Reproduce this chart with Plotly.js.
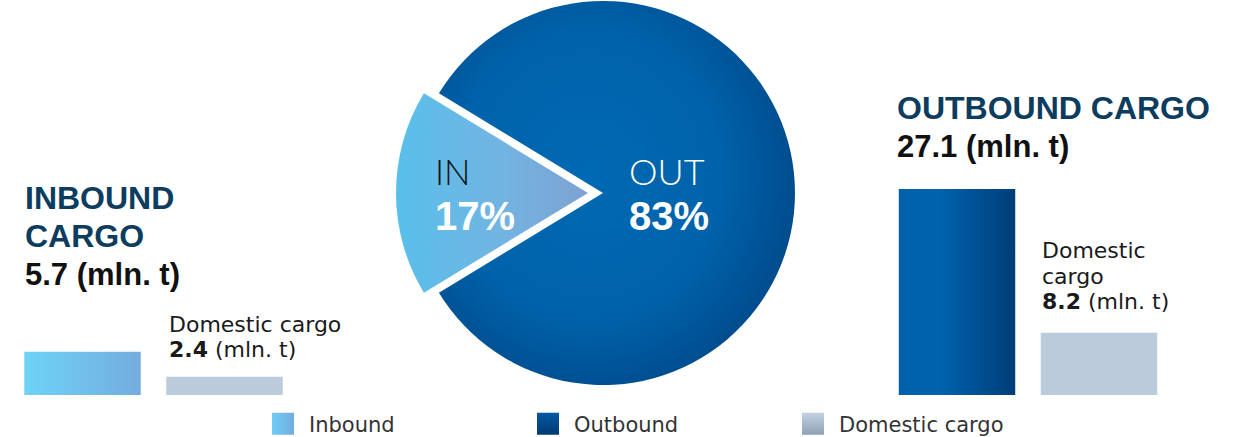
<!DOCTYPE html>
<html>
<head>
<meta charset="utf-8">
<script src="https://cdn.plot.ly/plotly-3.0.1.min.js"></script>
<style>
  html, body { margin: 0; padding: 0; background: #ffffff; }
  #chart { width: 1249px; height: 437px; }
</style>
</head>
<body>
<div id="chart"></div>
<script>
// ---- data ----
const categories = ['Inbound', 'Outbound'];
const pieLabels = ['IN', 'OUT'];
const totalCargo = [5.7, 27.1];      // mln. t
const domesticCargo = [2.4, 8.2];    // mln. t
const domesticLabel = 'Domestic cargo';
const unitLabel = '(mln. t)';

// ---- styling ----
const W = 1249, H = 437;
const px = v => v / W;
const py = v => 1 - v / H;

const colIn = '#6bb2e2';
const colOut = '#005ca4';
const colInBar = '#6ec3ee';
const colOutBar = '#00549a';
const colDom = '#bccbdc';
const TRANSP = 'rgba(0,0,0,0)';

const sum = totalCargo.reduce((a, b) => a + b, 0);
const shares = totalCargo.map(v => v / sum);
const rotation = 270 - shares[0] * 360 / 2;

const traces = [
  // main pie (OUT slice)
  {
    type: 'pie', labels: categories, values: totalCargo, sort: false,
    direction: 'clockwise', rotation: rotation,
    marker: { colors: [TRANSP, colOut], line: { width: 0 } },
    textinfo: 'none', showlegend: false, hoverinfo: 'label+value+percent',
    domain: { x: [px(411), px(795)], y: [py(385), py(1)] }
  },
  // pulled IN slice
  {
    type: 'pie', labels: categories, values: totalCargo, sort: false,
    direction: 'clockwise', rotation: rotation,
    marker: { colors: [colIn, TRANSP], line: { width: 0 } },
    textinfo: 'none', showlegend: false, hoverinfo: 'label+value+percent',
    domain: { x: [px(396), px(780)], y: [py(385), py(1)] }
  },
  // bars
  {
    type: 'bar', name: categories[0], x: ['total'], y: [totalCargo[0]],
    xaxis: 'x', yaxis: 'y', marker: { color: colInBar }, legendgroup: 'in'
  },
  {
    type: 'bar', name: categories[1], x: ['total'], y: [totalCargo[1]],
    xaxis: 'x2', yaxis: 'y', marker: { color: colOutBar }, legendgroup: 'out'
  },
  {
    type: 'bar', name: domesticLabel, x: ['domestic'], y: [domesticCargo[0]],
    xaxis: 'x', yaxis: 'y', marker: { color: colDom }, legendgroup: 'dom'
  },
  {
    type: 'bar', name: domesticLabel, x: ['domestic'], y: [domesticCargo[1]],
    xaxis: 'x2', yaxis: 'y', marker: { color: colDom }, legendgroup: 'dom',
    showlegend: false
  }
];

const titleFont = { family: 'Liberation Sans, Arial, sans-serif', size: 32, color: '#0c3c5e', weight: 700 };
const valueFont = { family: 'Liberation Sans, Arial, sans-serif', size: 31, color: '#111111', weight: 700 };
const smallFont = { family: 'DejaVu Sans, sans-serif', size: 22, color: '#1a1a1a' };

function ann(text, x, y, font) {
  return { text: text, x: px(x), y: py(y), xref: 'paper', yref: 'paper',
           xanchor: 'left', yanchor: 'middle', showarrow: false, align: 'left',
           borderpad: 0, font: font };
}

const pct = shares.map(s => Math.round(s * 100) + '%');

const annotations = [
  ann(categories[0].toUpperCase(), 24, 197.5, titleFont),
  ann('CARGO', 24, 236.3, titleFont),
  ann(totalCargo[0] + ' ' + unitLabel, 24, 274.3, valueFont),
  ann(categories[1].toUpperCase() + ' CARGO', 896, 108.3, titleFont),
  ann(totalCargo[1] + ' ' + unitLabel, 896, 146.5, valueFont),
  ann(domesticLabel, 168, 324, smallFont),
  ann('<b>' + domesticCargo[0] + '</b> ' + unitLabel, 168, 349, smallFont),
  ann(domesticLabel.split(' ')[0], 1041, 250.5, smallFont),
  ann(domesticLabel.split(' ')[1], 1041, 276, smallFont),
  ann('<b>' + domesticCargo[1] + '</b> ' + unitLabel, 1041, 301.5, smallFont),
  ann(pieLabels[0], 434, 170.5, { family: 'Lato, DejaVu Sans, sans-serif', size: 35, color: '#111111', weight: 300 }),
  ann(pct[0], 434, 215.8, { family: 'Liberation Sans, Arial, sans-serif', size: 40, color: '#ffffff', weight: 700 }),
  ann(pieLabels[1], 628, 171.3, { family: 'Lato, DejaVu Sans, sans-serif', size: 36, color: '#ffffff', weight: 300 }),
  ann(pct[1], 628, 215.8, { family: 'Liberation Sans, Arial, sans-serif', size: 40, color: '#ffffff', weight: 700 })
];

const hiddenX = { visible: false, type: 'category', fixedrange: true };

const layout = {
  width: W, height: H,
  margin: { l: 0, r: 0, t: 0, b: 0, autoexpand: false },
  paper_bgcolor: '#ffffff', plot_bgcolor: 'rgba(0,0,0,0)',
  barmode: 'overlay', bargap: 0.18,
  xaxis: Object.assign({ domain: [px(11.5), px(295.5)], anchor: 'y' }, hiddenX),
  xaxis2: Object.assign({ domain: [px(886), px(1170)], anchor: 'y' }, hiddenX),
  yaxis: { visible: false, range: [0, 50], domain: [py(395), py(15)], fixedrange: true },
  showlegend: true,
  legend: {
    orientation: 'h', x: px(257), xanchor: 'left', y: py(424), yanchor: 'middle',
    itemwidth: 42, entrywidth: 208, entrywidthmode: 'pixels', traceorder: 'normal',
    font: { family: 'DejaVu Sans, sans-serif', size: 21, color: '#333333' },
    bgcolor: 'rgba(0,0,0,0)', itemclick: false, itemdoubleclick: false
  },
  annotations: annotations
};

// ---- gradient finishing (fills only; geometry comes from Plotly) ----
function rgbKey(hex) {
  const n = parseInt(hex.slice(1), 16);
  return 'rgb(' + ((n >> 16) & 255) + ', ' + ((n >> 8) & 255) + ', ' + (n & 255) + ')';
}
function addGradients(gd) {
  const svg = gd.querySelector('.main-svg');
  const NS = 'http://www.w3.org/2000/svg';
  const defs = document.createElementNS(NS, 'defs');
  const grads = {
    gIn:      { type: 'linear', v: false, stops: [['0', '#59bfeb'], ['0.55', '#72b4e2'], ['1', '#7ea2d2']] },
    gOut:     { type: 'radial', stops: [['0', '#0069b3'], ['0.6', '#0062aa'], ['1', '#00498a']] },
    gInBar:   { type: 'linear', v: false, stops: [['0', '#6dd3f7'], ['1', '#74acde']] },
    gOutBar:  { type: 'linear', v: false, stops: [['0', '#0061ab'], ['0.35', '#0063ae'], ['1', '#003d78']] },
    gLegIn:   { type: 'linear', v: false, stops: [['0', '#6dcdf4'], ['1', '#73addf']] },
    gLegOut:  { type: 'linear', v: true,  stops: [['0', '#0059a3'], ['1', '#003a72']] },
    gLegDom:  { type: 'linear', v: true,  stops: [['0', '#c3d3e2'], ['1', '#8ea2b2']] }
  };
  Object.keys(grads).forEach(id => {
    const g = grads[id];
    const el = document.createElementNS(NS, g.type === 'radial' ? 'radialGradient' : 'linearGradient');
    el.setAttribute('id', id);
    if (g.type === 'radial') {
      el.setAttribute('cx', '0.42'); el.setAttribute('cy', '0.45'); el.setAttribute('r', '0.62');
    } else {
      el.setAttribute('x1', '0'); el.setAttribute('y1', '0');
      el.setAttribute('x2', g.v ? '0' : '1'); el.setAttribute('y2', g.v ? '1' : '0');
    }
    g.stops.forEach(s => {
      const st = document.createElementNS(NS, 'stop');
      st.setAttribute('offset', s[0]); st.setAttribute('stop-color', s[1]);
      el.appendChild(st);
    });
    defs.appendChild(el);
  });
  svg.insertBefore(defs, svg.firstChild);

  // legend swatches: larger squares with their own gradients
  const legMap = {};
  legMap[rgbKey(colInBar)] = 'gLegIn';
  legMap[rgbKey(colOutBar)] = 'gLegOut';
  legMap[rgbKey(colDom)] = 'gLegDom';
  gd.querySelectorAll('.legend .legendpoints path').forEach(p => {
    const id = legMap[p.style.fill];
    if (id) {
      p.setAttribute('d', 'M11,11H-11V-11H11Z');
      p.style.fill = 'url(#' + id + ')';
    }
  });

  const markMap = {};
  markMap[rgbKey(colIn)] = 'gIn';
  markMap[rgbKey(colOut)] = 'gOut';
  markMap[rgbKey(colInBar)] = 'gInBar';
  markMap[rgbKey(colOutBar)] = 'gOutBar';
  gd.querySelectorAll('.pielayer path.surface, .barlayer .point path').forEach(p => {
    const id = markMap[p.style.fill];
    if (id) p.style.fill = 'url(#' + id + ')';
  });
}

Plotly.newPlot('chart', traces, layout, { displayModeBar: false, staticPlot: true })
  .then(addGradients);
</script>
</body>
</html>
